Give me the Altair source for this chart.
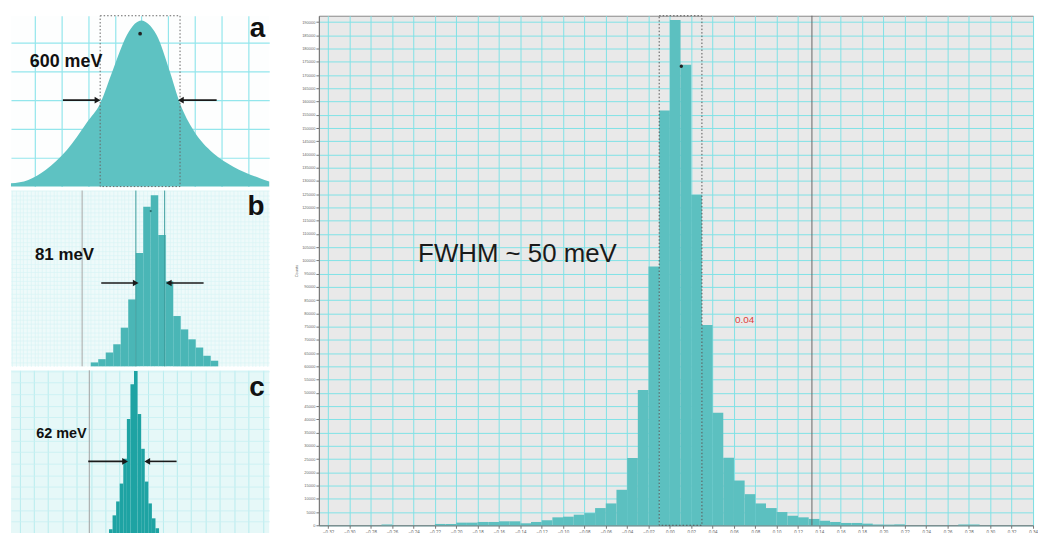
import altair as alt
import pandas as pd

# ---------------- main histogram (energy offset in eV, counts) ----------------
main_bin_start = [-0.27, -0.22, -0.21, -0.20, -0.19, -0.18, -0.17, -0.16, -0.15, -0.14,
                  -0.13, -0.12, -0.11, -0.10, -0.09, -0.08, -0.07, -0.06, -0.05, -0.04,
                  -0.03, -0.02, -0.01, 0.00, 0.01, 0.02, 0.03, 0.04, 0.05, 0.06,
                  0.07, 0.08, 0.09, 0.10, 0.11, 0.12, 0.13, 0.14, 0.15, 0.16,
                  0.17, 0.18, 0.19, 0.20, 0.21, 0.27, 0.28]
main_counts = [300, 500, 500, 1000, 1000, 1250, 1250, 1500, 1500, 750,
               1250, 1900, 3000, 3250, 4000, 4600, 6500, 8250, 13400, 25400,
               51100, 97750, 156600, 190750, 173900, 124800, 75600, 42500, 25500, 16900,
               11750, 8250, 6500, 5000, 3600, 3000, 2400, 1750, 1250, 875,
               875, 625, 300, 250, 350, 300, 300]
main_bin_width = 0.01
main_x_ticks = [round(-0.32 + 0.02 * i, 2) for i in range(34)]
main_y_ticks = list(range(0, 190001, 5000))

# ---------------- panel a (smooth profile, fraction of peak) ----------------
a_energy = [-0.98, -0.85, -0.72, -0.56, -0.41, -0.31, -0.215, -0.11, -0.05, 0.0,
            0.05, 0.115, 0.21, 0.29, 0.39, 0.54, 0.69, 0.89, 0.96]
a_value = [0.02, 0.04, 0.10, 0.22, 0.386, 0.50, 0.70, 0.91, 0.98, 1.0,
           0.98, 0.91, 0.70, 0.50, 0.34, 0.20, 0.12, 0.05, 0.03]
a_grid_x = [-0.8, -0.6, -0.4, -0.2, 0.0, 0.2, 0.4, 0.6, 0.8]
a_grid_y = [0.173, 0.346, 0.519, 0.692, 0.865]

# ---------------- panel b (histogram) ----------------
b_bin_start = [-0.16, -0.14, -0.12, -0.10, -0.08, -0.06, -0.04, -0.02, 0.00,
               0.02, 0.04, 0.06, 0.08, 0.10, 0.12, 0.14, 0.16]
b_counts = [23, 42, 81, 129, 226, 391, 662, 933, 1000, 768, 497, 294, 216, 158, 110, 62, 33]
b_bin_width = 0.02
b_grid_x = [round(-0.37 + 0.01 * i, 2) for i in range(69)]
b_grid_y = list(range(25, 1026, 25))

# ---------------- panel c (histogram) ----------------
c_bin_start = [-0.07, -0.06, -0.05, -0.04, -0.03, -0.02, -0.01, 0.00,
               0.01, 0.02, 0.03, 0.04, 0.05, 0.06]
c_counts = [24, 108, 192, 300, 450, 690, 900, 980, 720, 510, 312, 180, 90, 30]
c_bin_width = 0.01
c_grid_x = [round(-0.32 + 0.04 * i, 2) for i in range(18)]
c_grid_y = list(range(70, 981, 70))

TEAL_MAIN = "#5cc0c0"
FONT = "Liberation Sans"


def hist_df(starts, counts, width):
    return pd.DataFrame({"start": starts, "end": [s + width for s in starts], "count": counts})


def grid_axis(values, color, width=1.0):
    return alt.Axis(values=values, grid=True, gridColor=color, gridWidth=width, labels=False,
                    ticks=False, domain=False, title=None, minExtent=0, maxExtent=0)


class Panel:
    def __init__(self, xsc, ysc, xax, yax):
        self.xsc, self.ysc, self.xax, self.yax = xsc, ysc, xax, yax

    def X(self, f):
        return alt.X(f, scale=self.xsc, axis=self.xax)

    def Y(self, f):
        return alt.Y(f, scale=self.ysc, axis=self.yax)

    def bars(self, df, color):
        return alt.Chart(df).mark_rect(color=color).encode(
            x=self.X("start:Q"), x2="end:Q", y=self.Y("count:Q"), y2=alt.datum(0))

    def text(self, x, y, label, size, bold=True, color="#111"):
        df = pd.DataFrame({"x": [x], "y": [y], "label": [label]})
        return alt.Chart(df).mark_text(font=FONT, fontSize=size, fontWeight="bold" if bold else "normal",
                                       color=color, align="center", baseline="middle").encode(
            x=self.X("x:Q"), y=self.Y("y:Q"), text="label:N")

    def box(self, x, x2, y, y2, color):
        df = pd.DataFrame({"x": [x], "x2": [x2], "y": [y], "y2": [y2]})
        return alt.Chart(df).mark_rect(fillOpacity=0, stroke=color, strokeDash=[1.5, 2], strokeWidth=1).encode(
            x=self.X("x:Q"), x2="x2:Q", y=self.Y("y:Q"), y2="y2:Q")

    def dot(self, x, y, size, color="#222"):
        df = pd.DataFrame({"x": [x], "y": [y]})
        return alt.Chart(df).mark_circle(color=color, size=size, opacity=1).encode(
            x=self.X("x:Q"), y=self.Y("y:Q"))

    def vlines(self, xs, colors, width=1):
        df = pd.DataFrame({"x": xs, "c": colors})
        return alt.Chart(df).mark_rule(strokeWidth=width).encode(
            x=self.X("x:Q"), color=alt.Color("c:N", scale=None))

    def arrows(self, pairs, y):
        rules = pd.DataFrame({"x": [p[0] for p in pairs], "x2": [p[1] for p in pairs], "y": [y] * len(pairs)})
        tips = pd.DataFrame({"x": [p[1] for p in pairs], "y": [y] * len(pairs),
                             "shape": ["triangle-right" if p[1] > p[0] else "triangle-left" for p in pairs]})
        r = alt.Chart(rules).mark_rule(color="#1a1a1a", strokeWidth=1.6).encode(
            x=self.X("x:Q"), x2="x2:Q", y=self.Y("y:Q"))
        t = alt.Chart(tips).mark_point(filled=True, color="#1a1a1a", size=45, opacity=1).encode(
            x=self.X("x:Q"), y=self.Y("y:Q"), shape=alt.Shape("shape:N", scale=None))
        return [r, t]


# ================= panel a =================
pa = Panel(alt.Scale(domain=[-0.98, 0.96], nice=False, zero=False),
           alt.Scale(domain=[0, 1.028], nice=False),
           grid_axis(a_grid_x, "#93e6ec", 1.2), grid_axis(a_grid_y, "#93e6ec", 1.2))
a_area = alt.Chart(pd.DataFrame({"e": a_energy, "v": a_value})).mark_area(
    color="#5ec2c2", interpolate="monotone", opacity=1).encode(x=pa.X("e:Q"), y=pa.Y("v:Q"))
panel_a = alt.layer(
    a_area,
    pa.box(-0.31, 0.29, 0.0, 1.028, "#666"),
    pa.dot(-0.01, 0.92, 14),
    *pa.arrows([(-0.59, -0.33), (0.565, 0.296)], 0.52),
    pa.text(-0.566, 0.747, "600 meV", 18),
    pa.text(0.872, 0.95, "a", 28),
).properties(width=260, height=172, view=alt.ViewBackground(fill="#fdfefe", stroke=None))

# ================= panel b =================
pb = Panel(alt.Scale(domain=[-0.3727, 0.316], nice=False, zero=False),
           alt.Scale(domain=[0, 1027], nice=False),
           grid_axis(b_grid_x, "#d6f3f5", 0.6), grid_axis(b_grid_y, "#d6f3f5", 0.6))
panel_b = alt.layer(
    pb.bars(hist_df(b_bin_start, b_counts, b_bin_width), "#4ab6b6"),
    pb.vlines([-0.183, -0.0397, 0.0371], ["#a5a5a5", "#3d9d9d", "#3d9d9d"]),
    pb.dot(0.0, 907, 5, "#2a6f6f"),
    *pb.arrows([(-0.132, -0.040), (0.141, 0.048)], 487),
    pb.text(-0.23, 650, "81 meV", 17),
    pb.text(0.281, 929, "b", 28),
).properties(width=260, height=177, view=alt.ViewBackground(fill="#eefafa", stroke=None))

# ================= panel c =================
pc = Panel(alt.Scale(domain=[-0.344, 0.378], nice=False, zero=False),
           alt.Scale(domain=[0, 984], nice=False),
           grid_axis(c_grid_x, "#b8ecee", 1.0), grid_axis(c_grid_y, "#c8f0f2", 0.8))
panel_c = alt.layer(
    pc.bars(hist_df(c_bin_start, c_counts, c_bin_width), "#1ea3a3"),
    pc.vlines([-0.125], ["#a0a0a0"]),
    *pc.arrows([(-0.128, -0.025), (0.119, 0.037)], 434),
    pc.text(-0.203, 600, "62 meV", 14.5),
    pc.text(0.344, 876, "c", 28),
).properties(width=260, height=164, view=alt.ViewBackground(fill="#e6f8f8", stroke=None))

left = alt.vconcat(panel_a, panel_b, panel_c, spacing=2)

# ================= main panel =================
m_xaxis = alt.Axis(values=main_x_ticks, format=".2f", labelFontSize=4.5, labelColor="#666",
                   labelFont=FONT, tickSize=3, tickColor="#777", domainColor="#777",
                   labelPadding=1, labelOverlap=False, labelFlush=False,
                   grid=True, gridColor="#80e2e6", gridWidth=1, title=None)
m_yaxis = alt.Axis(values=main_y_ticks, format="d", labelFontSize=4, labelColor="#666", labelFont=FONT,
                   tickSize=3, tickColor="#777", domainColor="#777", labelPadding=1,
                   labelOverlap=False, labelFlush=False, grid=True, gridColor="#80e2e6",
                   gridWidth=1, title="Counts", titleFontSize=4, titleFont=FONT,
                   titleFontWeight="normal", titleColor="#666", titlePadding=1,
                   minExtent=20, maxExtent=20)
pm = Panel(alt.Scale(domain=[-0.3286, 0.3400], nice=False, zero=False),
           alt.Scale(domain=[0, 192400], nice=False), m_xaxis, m_yaxis)
main = alt.layer(
    pm.bars(hist_df(main_bin_start, main_counts, main_bin_width), TEAL_MAIN),
    pm.box(-0.01, 0.03, 0, 192400, "#555"),
    pm.vlines([0.133], ["#666"]),
    pm.dot(0.0107, 173300, 12),
    pm.text(-0.1427, 102260, "FWHM ~ 50 meV", 26, bold=False, color="#1a1a1a"),
    pm.text(0.07, 77500, "0.04", 10, bold=False, color="#e0403a"),
).properties(width=719, height=513, view=alt.ViewBackground(fill="#e9e9e9", stroke="#888", strokeWidth=1))

chart = alt.hconcat(left, main, spacing=24).properties(
    padding={"left": 3, "top": 5, "right": 0, "bottom": 0}
).configure(background="white")

chart.save("out.html", embed_options={"renderer": "svg", "actions": False})
